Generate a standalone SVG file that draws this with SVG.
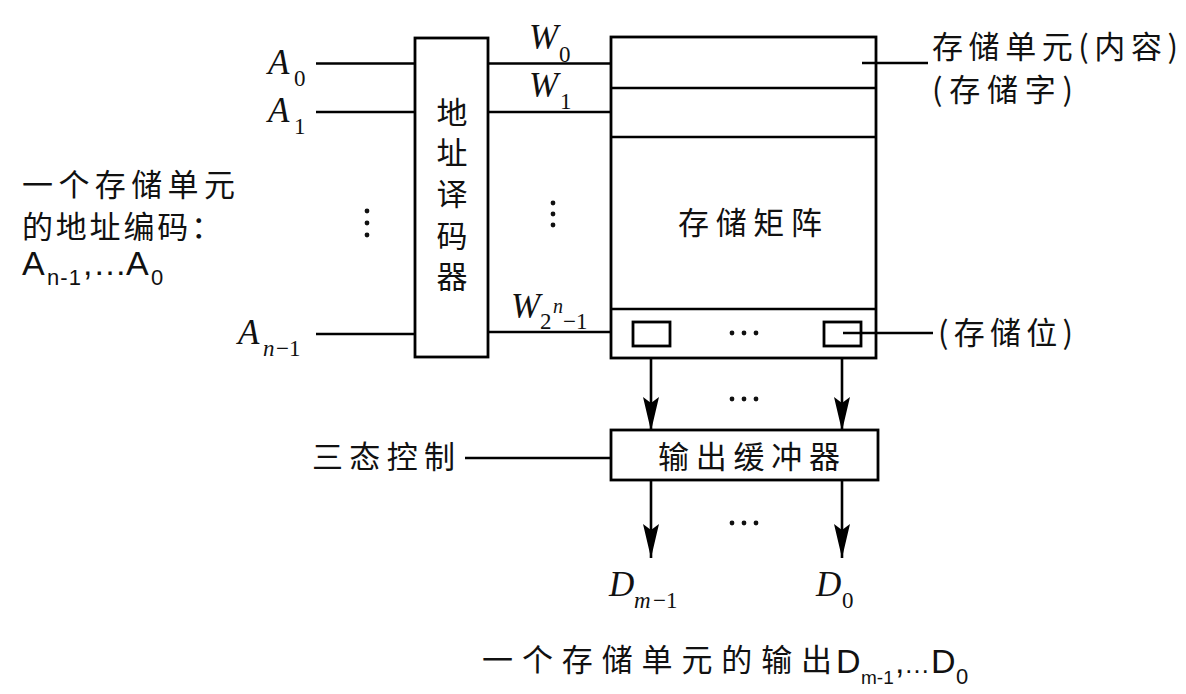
<svg xmlns="http://www.w3.org/2000/svg" width="1186" height="694" viewBox="0 0 1186 694">
<style>
.ln{stroke:#000;stroke-width:2.6;fill:none}
.bx{stroke:#000;stroke-width:2.8;fill:#fff}
.cjk{font-family:"Noto Sans CJK SC","Noto Sans",sans-serif;font-size:31px;fill:#111}
.mi{font-family:"Liberation Serif",serif;font-style:italic;font-size:35px;fill:#111}
.sb{font-family:"Liberation Serif",serif;font-size:23px;fill:#111}
.sbi{font-family:"Liberation Serif",serif;font-style:italic;font-size:23px;fill:#111}
.ar{font-family:"Liberation Sans",Arial,sans-serif;font-size:34px;fill:#111}
.ars{font-family:"Liberation Sans",Arial,sans-serif;font-size:22px;fill:#111}
.dot{fill:#111}
</style>
<defs>
<marker id="arr" viewBox="0 0 34 16" refX="34" refY="8" markerWidth="34" markerHeight="16" markerUnits="userSpaceOnUse" orient="auto">
<path d="M0,0 L34,8 L0,16 L6,8 z" fill="#000"/>
</marker>
</defs>
<rect width="1186" height="694" fill="#fff"/>

<g id="decoder">
<rect class="bx" x="415" y="38" width="73" height="319"/>
<text class="cjk" x="452" y="124" text-anchor="middle">地</text>
<text class="cjk" x="452" y="164" text-anchor="middle">址</text>
<text class="cjk" x="452" y="205" text-anchor="middle">译</text>
<text class="cjk" x="452" y="247" text-anchor="middle">码</text>
<text class="cjk" x="452" y="288" text-anchor="middle">器</text>
</g>

<g id="matrix">
<rect class="bx" x="611" y="37" width="265" height="321"/>
<line class="ln" x1="611" y1="88" x2="876" y2="88"/>
<line class="ln" x1="611" y1="137" x2="876" y2="137"/>
<line class="ln" x1="611" y1="309" x2="876" y2="309"/>
<text class="cjk" x="678" y="234" textLength="144">存储矩阵</text>
<rect class="bx" x="633" y="322" width="37" height="24"/>
<rect class="bx" x="824" y="322" width="37" height="24"/>
<circle class="dot" cx="732" cy="333" r="2.4"/>
<circle class="dot" cx="744" cy="333" r="2.4"/>
<circle class="dot" cx="756" cy="333" r="2.4"/>
</g>

<g id="buffer">
<rect class="bx" x="611" y="430" width="267" height="50"/>
<text class="cjk" x="658" y="468" textLength="182">输出缓冲器</text>
</g>

<g id="connectors">
<line class="ln" x1="316" y1="63.5" x2="415" y2="63.5"/>
<line class="ln" x1="316" y1="112" x2="415" y2="112"/>
<line class="ln" x1="316" y1="334" x2="415" y2="334"/>
<line class="ln" x1="488" y1="63.5" x2="611" y2="63.5"/>
<line class="ln" x1="488" y1="112" x2="611" y2="112"/>
<line class="ln" x1="488" y1="332" x2="611" y2="332"/>
<line class="ln" x1="862" y1="63" x2="928" y2="63"/>
<line class="ln" x1="843" y1="333" x2="933" y2="333"/>
<line class="ln" x1="465" y1="458" x2="611" y2="458"/>
<line class="ln" x1="651" y1="358" x2="651" y2="431" marker-end="url(#arr)"/>
<line class="ln" x1="842" y1="358" x2="842" y2="431" marker-end="url(#arr)"/>
<line class="ln" x1="651" y1="480" x2="651" y2="558" marker-end="url(#arr)"/>
<line class="ln" x1="842" y1="480" x2="842" y2="558" marker-end="url(#arr)"/>
</g>

<g id="address-labels">
<text class="mi" x="268" y="74">A</text><text class="sb" x="294" y="86">0</text>
<text class="mi" x="268" y="122">A</text><text class="sb" x="294" y="134">1</text>
<text class="mi" x="238" y="344">A</text><text class="sbi" x="263" y="356">n</text><text class="sb" x="276" y="356">−1</text>
<circle class="dot" cx="367" cy="211" r="2.4"/>
<circle class="dot" cx="367" cy="223" r="2.4"/>
<circle class="dot" cx="367" cy="235" r="2.4"/>
</g>

<g id="word-labels">
<text class="mi" x="529" y="49">W</text><text class="sb" x="559" y="62">0</text>
<text class="mi" x="529" y="97">W</text><text class="sb" x="560" y="109">1</text>
<text class="mi" x="511" y="318">W</text><text class="sb" x="540" y="329">2</text><text class="sbi" x="553" y="313" style="font-size:20px">n</text><text class="sb" x="563" y="329">−1</text>
<circle class="dot" cx="553" cy="203" r="2.4"/>
<circle class="dot" cx="553" cy="214" r="2.4"/>
<circle class="dot" cx="553" cy="225" r="2.4"/>
</g>

<g id="cell-label">
<text class="cjk" x="932" y="58" textLength="246">存储单元(内容)</text>
<text class="cjk" x="932" y="101" textLength="141">(存储字)</text>
</g>

<g id="bit-label">
<text class="cjk" x="938" y="344" textLength="135">(存储位)</text>
</g>

<g id="tristate">
<text class="cjk" x="312" y="468" textLength="143">三态控制</text>
</g>

<g id="output-labels">
<text class="mi" x="609" y="596">D</text><text class="sbi" x="634" y="608">m</text><text class="sb" x="653" y="608">−1</text>
<text class="mi" x="816" y="596">D</text><text class="sb" x="842" y="608">0</text>
<circle class="dot" cx="732" cy="523" r="2.4"/>
<circle class="dot" cx="744" cy="523" r="2.4"/>
<circle class="dot" cx="756" cy="523" r="2.4"/>
<circle class="dot" cx="732" cy="399" r="2.4"/>
<circle class="dot" cx="744" cy="399" r="2.4"/>
<circle class="dot" cx="756" cy="399" r="2.4"/>
</g>

<g id="address-caption">
<text class="cjk" x="22" y="196" textLength="213">一个存储单元</text>
<text class="cjk" x="22" y="238" textLength="200">的地址编码：</text>
<text class="ar" x="22" y="275">A</text><text class="ars" x="47" y="285" textLength="34">n-1</text><text class="ar" x="83" y="275">,</text><text class="ar" x="93" y="275" textLength="30">…</text><text class="ar" x="126" y="275">A</text><text class="ars" x="151" y="285">0</text>
</g>

<g id="output-caption">
<text class="cjk" x="482" y="671" textLength="350">一个存储单元的输出</text>
<text class="ar" x="836" y="673">D</text><text class="ars" x="861" y="684" style="font-size:19px">m-1</text><text class="ar" x="895" y="673">,</text><text class="ar" x="904" y="673" style="font-size:26px">…</text><text class="ar" x="931" y="673">D</text><text class="ars" x="956" y="684">0</text>
</g>
</svg>
